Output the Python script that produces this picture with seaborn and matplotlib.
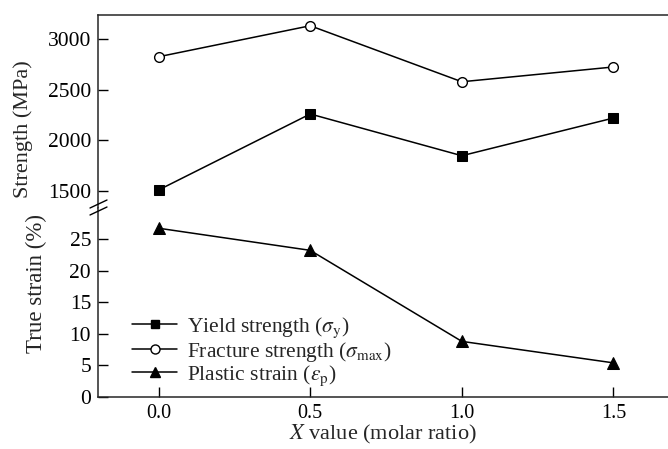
import matplotlib
matplotlib.use("Agg")
import matplotlib.pyplot as plt
from matplotlib.lines import Line2D
import pandas as pd
import seaborn as sns

# Measured properties versus composition
x_ratio = [0.0, 0.5, 1.0, 1.5]
yield_strength = [1510, 2260, 1848, 2220]       # MPa
fracture_strength = [2825, 3131, 2578, 2724]    # MPa
plastic_strain = [26.7, 23.2, 8.8, 5.4]         # %

strength_ticks = [1500, 2000, 2500, 3000]
strain_ticks = [0, 5, 10, 15, 20, 25]
x_ticks = [0.0, 0.5, 1.0, 1.5]

sns.set_theme(style="ticks")
plt.rcParams["font.family"] = ["Liberation Serif", "DejaVu Serif"]
plt.rcParams["mathtext.fontset"] = "stix"
plt.rcParams["font.size"] = 15

df = pd.DataFrame({
    "x": x_ratio,
    "yield": yield_strength,
    "fracture": fracture_strength,
    "plastic": plastic_strain,
})

W, H = 668, 449
fig = plt.figure(figsize=(W / 100, H / 100), dpi=100)
left = 98 / W
right = 1.0
top = 1 - 15 / H
brk = 1 - 208 / H
bottom = 1 - 397 / H

ax_top = fig.add_axes([left, brk, right - left, top - brk])
ax_bot = fig.add_axes([left, bottom, right - left, brk - bottom], sharex=ax_top)

lw = 1.1
sns.lineplot(data=df, x="x", y="yield", ax=ax_top, color="black", lw=lw,
             marker="s", markersize=6.5, markerfacecolor="black",
             markeredgecolor="black")
sns.lineplot(data=df, x="x", y="fracture", ax=ax_top, color="black", lw=lw,
             marker="o", markersize=7, markerfacecolor="white",
             markeredgecolor="black", markeredgewidth=1.0)
sns.lineplot(data=df, x="x", y="plastic", ax=ax_bot, color="black", lw=lw,
             marker="^", markersize=8, markerfacecolor="black",
             markeredgecolor="black")

ax_top.set_xlim(-0.2, 1.68)
ax_top.set_ylim(1332, 3237)
ax_bot.set_ylim(0, 29.9)

for ax in (ax_top, ax_bot):
    ax.spines["right"].set_visible(False)
    for s in ax.spines.values():
        s.set_linewidth(1.1)
    ax.tick_params(direction="in", length=7, width=1.0, colors="black", pad=5)
    ax.tick_params(axis="y", labelsize=15.5)
    ax.tick_params(axis="x", labelsize=14.5)
    ax.set_facecolor("white")

ax_top.spines["bottom"].set_visible(False)
ax_bot.spines["top"].set_visible(False)
ax_top.tick_params(axis="x", bottom=False, labelbottom=False)

ax_top.set_yticks(strength_ticks)
ax_bot.set_yticks(strain_ticks)
ax_bot.set_xticks(x_ticks)
ax_bot.set_xticklabels([f"{v:.1f}" for v in x_ticks])

ax_top.set_xlabel("")
ax_top.set_ylabel("Strength (MPa)", fontsize=16)
ax_bot.set_ylabel("True strain (%)", fontsize=16.5)
ax_top.yaxis.set_label_coords(-0.114, 0.41)
ax_bot.yaxis.set_label_coords(-0.09, 0.598)
ax_bot.set_xlabel("$X$ value (molar ratio)", fontsize=16, labelpad=0)

# Axis break marks on the left spine
yb = 1 - 208 / H
for dy in (-3 / H, 4 / H):
    fig.add_artist(Line2D([left - 8 / W, left + 9 / W],
                          [yb + dy - 4 / H, yb + dy + 4 / H],
                          color="black", lw=1.0))

handles = [
    Line2D([], [], color="black", lw=lw, marker="s", markersize=6,
           markerfacecolor="black"),
    Line2D([], [], color="black", lw=lw, marker="o", markersize=6.5,
           markerfacecolor="white"),
    Line2D([], [], color="black", lw=lw, marker="^", markersize=7,
           markerfacecolor="black"),
]
labels = [
    r"Yield strength ($\sigma_\mathrm{y}$)",
    r"Fracture strength ($\sigma_\mathrm{max}$)",
    r"Plastic strain ($\varepsilon_\mathrm{p}$)",
]
ax_bot.legend(handles, labels, loc="lower left", frameon=False,
              bbox_to_anchor=(34 / (W - 98), 9 / (397 - 208)), borderaxespad=0,
              handlelength=2.1, handletextpad=0.45, labelspacing=0.0,
              fontsize=15.5, borderpad=0)

fig.savefig("out.png", dpi=100, facecolor="white")
